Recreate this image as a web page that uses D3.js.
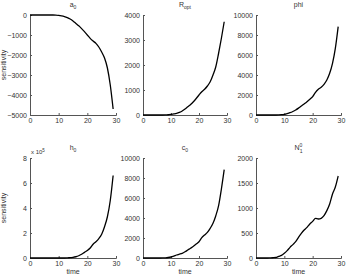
<!DOCTYPE html>
<html><head><meta charset="utf-8">
<script src="https://cdn.jsdelivr.net/npm/d3@7"></script>
<style>
body{margin:0;background:#fff;}
svg{display:block;font-family:"Liberation Sans",Arial,sans-serif;}
</style></head><body>
<svg id="c" width="347" height="278"></svg>
<script>
const time = d3.range(0, 30);
const a0   = [0,0,0,0,0,0,0,0,0,-5,-20,-45,-80,-130,-200,-300,-420,-540,-680,-830,-1000,-1170,-1300,-1420,-1600,-1850,-2150,-2650,-3500,-4700];
const Ropt = [0,0,0,0,0,0,0,0,2,10,25,42,65,105,160,240,330,420,530,660,800,930,1030,1160,1330,1600,1930,2470,3070,3730];
const phi  = [0,0,0,0,0,0,0,2,10,30,70,140,230,350,500,690,900,1110,1330,1570,1830,2270,2570,2770,3070,3500,4170,5170,6670,8830];
const h0   = [0,0,0,0,0,0,0,0,0,0,0,0,0,500,3000,5000,10000,18000,30000,45000,60000,80000,110000,130000,155000,190000,250000,330000,460000,660000];
const c0   = [0,0,0,0,0,0,0,5,20,50,100,190,300,380,470,620,800,980,1170,1390,1630,2030,2300,2570,2970,3470,4230,5230,6900,8830];
const N10  = [0,0,0,0,0,2,5,10,33,53,93,147,213,267,327,413,493,560,613,680,733,793,780,793,847,947,1080,1280,1420,1640];

const xTicks = [0,10,20,30];
const panels = [
  {title:"a", sub:"0", sup:null, data:a0, yDomain:[-5000,0], yTicks:[-5000,-4000,-3000,-2000,-1000,0], scale:1, ylab:true, xlab:false},
  {title:"R", sub:"opt", sup:null, data:Ropt, yDomain:[0,4000], yTicks:[0,1000,2000,3000,4000], scale:1, ylab:false, xlab:false},
  {title:"phi", sub:null, sup:null, data:phi, yDomain:[0,10000], yTicks:[0,2000,4000,6000,8000,10000], scale:1, ylab:false, xlab:false},
  {title:"h", sub:"0", sup:null, data:h0, yDomain:[0,8], yTicks:[0,2,4,6,8], scale:1e5, ylab:true, xlab:true, mult:true},
  {title:"c", sub:"0", sup:null, data:c0, yDomain:[0,10000], yTicks:[0,2000,4000,6000,8000,10000], scale:1, ylab:false, xlab:true},
  {title:"N", sub:"1", sup:"0", data:N10, yDomain:[0,2000], yTicks:[0,500,1000,1500,2000], scale:1, ylab:false, xlab:true}
];
const lefts = [30,143,256], widths=[86,84,85];
const tops = [15,158], H = 100;
const svg = d3.select("#c");
const txtCol = "#333";

panels.forEach((p,i)=>{
  const col = i%3, row = Math.floor(i/3);
  const L = lefts[col], W = widths[col], T = tops[row];
  const x = d3.scaleLinear().domain([0,30]).range([L, L+W]);
  const y = d3.scaleLinear().domain(p.yDomain).range([T+H, T]);
  const g = svg.append("g");
  const xa = g.append("g").attr("transform",`translate(0,${T+H})`)
    .call(d3.axisBottom(x).tickValues(xTicks).tickSize(-2).tickPadding(3).tickFormat(d3.format("d")));
  const ya = g.append("g").attr("transform",`translate(${L},0)`)
    .call(d3.axisLeft(y).tickValues(p.yTicks).tickSize(-2).tickPadding(3).tickFormat(d=>d<0?"\u2212"+Math.abs(d):String(d)));
  [xa,ya].forEach(a=>{
    a.selectAll("path.domain").attr("stroke","#555").attr("stroke-width",1);
    a.selectAll(".tick line").attr("stroke","#555");
    a.selectAll("text").attr("fill",txtCol).style("font-size","7px");
  });
  const line = d3.line().x((d,k)=>x(time[k])).y(d=>y(d/p.scale)).curve(d3.curveMonotoneX);
  g.append("path").datum(p.data).attr("d",line).attr("fill","none").attr("stroke","#000").attr("stroke-width",1.3);

  // title
  const cx = L + W/2 + 0;
  const t = g.append("text").attr("x",cx).attr("y",T-8).attr("text-anchor","middle")
    .attr("fill",txtCol).style("font-size","7px");
  t.append("tspan").text(p.title);
  if(p.sup && p.sub){
    const base = t.append("tspan").attr("dy","3").style("font-size","5px").text(p.sub);
    t.append("tspan").attr("dx","-3").attr("dy","-6").style("font-size","5px").text(p.sup);
  } else if(p.sub){
    t.append("tspan").attr("dy","2").style("font-size","5px").text(p.sub);
  }
  if(p.ylab){
    g.append("text").attr("transform",`translate(6,${T+H/2}) rotate(-90)`)
      .attr("text-anchor","middle").attr("fill",txtCol).style("font-size","7px").text("sensitivity");
  }
  if(p.xlab){
    g.append("text").attr("x",L+W/2).attr("y",T+H+16).attr("text-anchor","middle")
      .attr("fill",txtCol).style("font-size","7px").text("time");
  }
  if(p.mult){
    const m = g.append("text").attr("x",L+1).attr("y",T-4).attr("fill",txtCol).style("font-size","6px");
    m.append("tspan").text("x 10");
    m.append("tspan").attr("dy","-2").style("font-size","4.5px").text("5");
  }
});
</script>
</body></html>
